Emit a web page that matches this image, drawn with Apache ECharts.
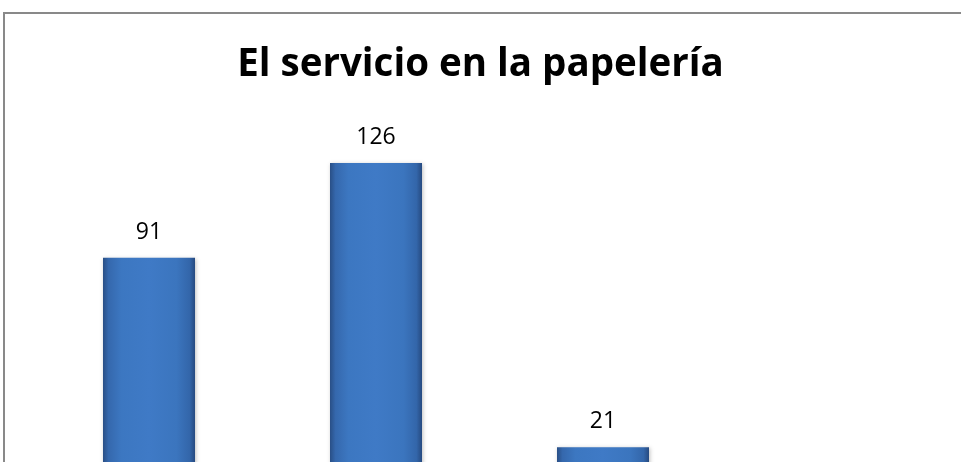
<!DOCTYPE html>
<html>
<head>
<meta charset="utf-8">
<script src="https://cdn.jsdelivr.net/npm/echarts@6/dist/echarts.min.js"></script>
<style>
html,body{margin:0;padding:0;width:961px;height:462px;overflow:hidden;background:#fff;}
#chart{position:absolute;left:0;top:0;width:961px;height:600px;}
#frame{position:absolute;left:3px;top:12px;width:1000px;height:700px;border-top:2px solid #898989;border-left:2px solid #898989;pointer-events:none;}
</style>
</head>
<body>
<div id="chart"></div>
<div id="frame"></div>
<script>
var titleText = 'El servicio en la papelería';
var categories = ['A', 'B', 'C'];
var values = [91, 126, 21];

var chart = echarts.init(document.getElementById('chart'), null, {renderer: 'canvas'});
var barGradient = new echarts.graphic.LinearGradient(0, 0, 1, 0, [
  {offset: 0, color: '#294f86'},
  {offset: 0.06, color: '#3568ad'},
  {offset: 0.2, color: '#3c77c1'},
  {offset: 0.5, color: '#3f7ac6'},
  {offset: 0.8, color: '#3b75be'},
  {offset: 0.94, color: '#3366aa'},
  {offset: 1, color: '#264a80'}
]);
chart.setOption({
  animation: false,
  title: {
    text: titleText,
    left: 'center',
    top: 41,
    textStyle: {fontFamily: 'Open Sans', fontWeight: 'bold', fontSize: 38.5, color: '#000'}
  },
  grid: {left: 35.5, right: 244.5, top: 125, bottom: 96, containLabel: false},
  xAxis: {
    type: 'category',
    data: categories,
    axisLine: {show: false},
    axisTick: {show: false},
    axisLabel: {show: false}
  },
  yAxis: {
    type: 'value',
    min: 0,
    max: 140,
    show: false,
    splitLine: {show: false}
  },
  series: [{
    type: 'bar',
    data: values,
    barWidth: 92,
    itemStyle: {
      color: barGradient,
      borderColor: '#5d93d8',
      borderWidth: 0,
      shadowColor: 'rgba(0,0,0,0.25)',
      shadowBlur: 4,
      shadowOffsetX: 1,
      shadowOffsetY: 1
    },
    label: {
      show: true,
      position: 'top',
      distance: 14,
      fontFamily: 'Open Sans',
      fontSize: 23,
      color: '#000'
    }
  }]
});
</script>
</body>
</html>
